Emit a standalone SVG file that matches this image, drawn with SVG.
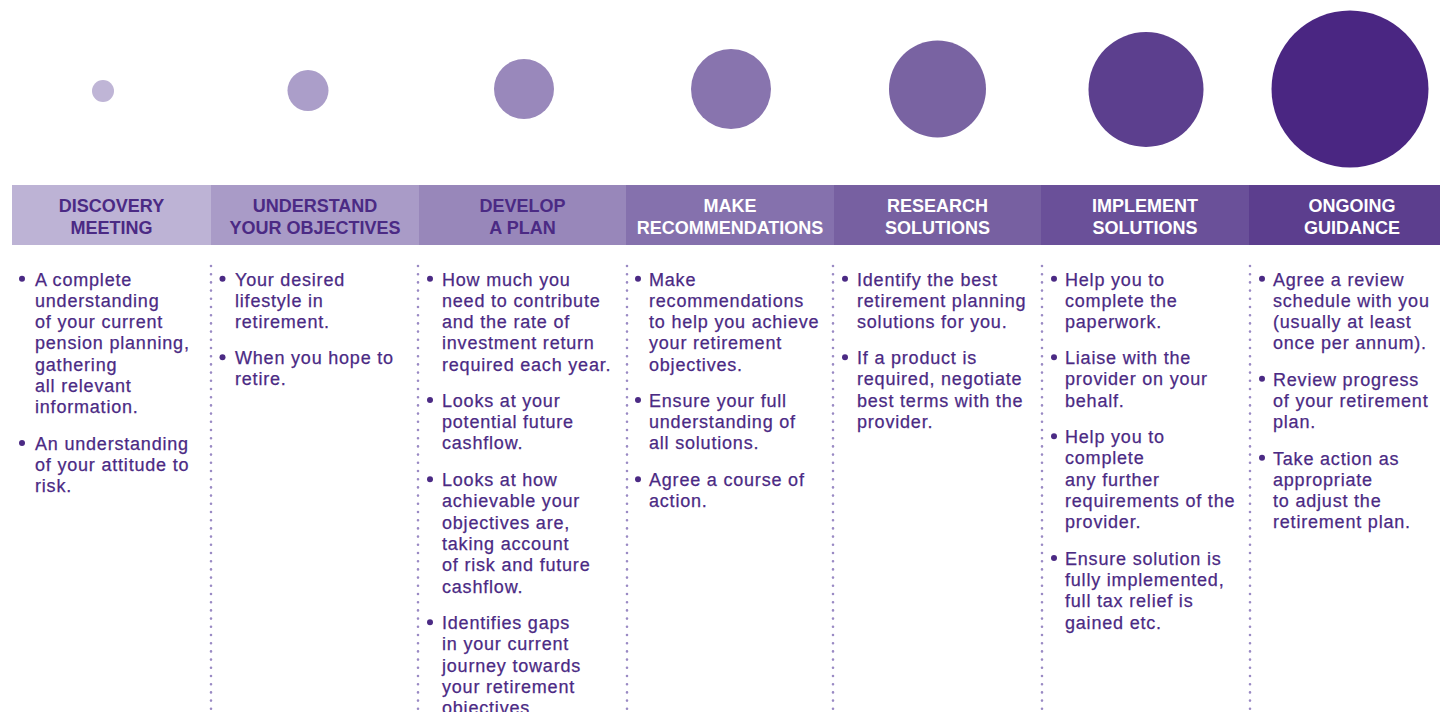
<svg xmlns="http://www.w3.org/2000/svg" width="1440" height="712" viewBox="0 0 1440 712">
<style>
.hd{font-family:"Liberation Sans",Arial,sans-serif;font-weight:bold;font-size:18px;text-anchor:middle}
.dk{fill:#4b2a84}
.wt{fill:#ffffff}
.bd{font-family:"Liberation Sans",Arial,sans-serif;font-size:18px;letter-spacing:0.8px;fill:#4b2a84;stroke:#4b2a84;stroke-width:0.25}
.bl{fill:#4b2a84}
.sep{stroke:#9a8ac4;stroke-width:2.6;stroke-linecap:round;stroke-dasharray:0 8.2;fill:none}
</style>
<rect width="1440" height="712" fill="#ffffff"/>

<g id="separators">
<line class="sep" x1="211" y1="266" x2="211" y2="712"/>
<line class="sep" x1="418" y1="266" x2="418" y2="712"/>
<line class="sep" x1="627" y1="266" x2="627" y2="712"/>
<line class="sep" x1="833" y1="266" x2="833" y2="712"/>
<line class="sep" x1="1042" y1="266" x2="1042" y2="712"/>
<line class="sep" x1="1250" y1="266" x2="1250" y2="712"/>
</g>
<g id="connectors"></g>

<g id="step1">
<circle cx="103" cy="91" r="11" fill="#bfb5d6"/>
<rect x="12" y="185" width="199" height="60" fill="#bdb3d5"/>
<text class="hd dk" x="111.5" y="212">DISCOVERY</text>
<text class="hd dk" x="111.5" y="233.5">MEETING</text>
<circle class="bl" cx="22" cy="278.8" r="3"/>
<text class="bd"><tspan x="35" y="285.5">A complete</tspan><tspan x="35" y="306.8">understanding</tspan><tspan x="35" y="328.1">of your current</tspan><tspan x="35" y="349.4">pension planning,</tspan><tspan x="35" y="370.7">gathering</tspan><tspan x="35" y="392">all relevant</tspan><tspan x="35" y="413.3">information.</tspan></text>
<circle class="bl" cx="22" cy="443" r="3"/>
<text class="bd"><tspan x="35" y="449.7">An understanding</tspan><tspan x="35" y="471">of your attitude to</tspan><tspan x="35" y="492.3">risk.</tspan></text>
</g>

<g id="step2">
<circle cx="308" cy="90.5" r="20.5" fill="#ab9ec9"/>
<rect x="211" y="185" width="208" height="60" fill="#a99bc7"/>
<text class="hd dk" x="315" y="212">UNDERSTAND</text>
<text class="hd dk" x="315" y="233.5">YOUR OBJECTIVES</text>
<circle class="bl" cx="222.5" cy="278.8" r="3"/>
<text class="bd"><tspan x="235" y="285.5">Your desired</tspan><tspan x="235" y="306.8">lifestyle in</tspan><tspan x="235" y="328.1">retirement.</tspan></text>
<circle class="bl" cx="222.5" cy="357.3" r="3"/>
<text class="bd"><tspan x="235" y="364">When you hope to</tspan><tspan x="235" y="385.3">retire.</tspan></text>
</g>

<g id="step3">
<circle cx="524" cy="89" r="30" fill="#9988bb"/>
<rect x="419" y="185" width="207" height="60" fill="#9887ba"/>
<text class="hd dk" x="522.5" y="212">DEVELOP</text>
<text class="hd dk" x="522.5" y="233.5">A PLAN</text>
<circle class="bl" cx="430" cy="278.8" r="3"/>
<text class="bd"><tspan x="442" y="285.5">How much you</tspan><tspan x="442" y="306.8">need to contribute</tspan><tspan x="442" y="328.1">and the rate of</tspan><tspan x="442" y="349.4">investment return</tspan><tspan x="442" y="370.7">required each year.</tspan></text>
<circle class="bl" cx="430" cy="400.1" r="3"/>
<text class="bd"><tspan x="442" y="406.8">Looks at your</tspan><tspan x="442" y="428.1">potential future</tspan><tspan x="442" y="449.4">cashflow.</tspan></text>
<circle class="bl" cx="430" cy="479.3" r="3"/>
<text class="bd"><tspan x="442" y="486">Looks at how</tspan><tspan x="442" y="507.3">achievable your</tspan><tspan x="442" y="528.6">objectives are,</tspan><tspan x="442" y="549.9">taking account</tspan><tspan x="442" y="571.2">of risk and future</tspan><tspan x="442" y="592.5">cashflow.</tspan></text>
<circle class="bl" cx="430" cy="622.3" r="3"/>
<text class="bd"><tspan x="442" y="629">Identifies gaps</tspan><tspan x="442" y="650.3">in your current</tspan><tspan x="442" y="671.6">journey towards</tspan><tspan x="442" y="692.9">your retirement</tspan><tspan x="442" y="714.2">objectives.</tspan></text>
</g>

<g id="step4">
<circle cx="731" cy="89" r="40" fill="#8874ae"/>
<rect x="626" y="185" width="208" height="60" fill="#8571ad"/>
<text class="hd wt" x="730" y="212">MAKE</text>
<text class="hd wt" x="730" y="233.5">RECOMMENDATIONS</text>
<circle class="bl" cx="638" cy="278.8" r="3"/>
<text class="bd"><tspan x="649" y="285.5">Make</tspan><tspan x="649" y="306.8">recommendations</tspan><tspan x="649" y="328.1">to help you achieve</tspan><tspan x="649" y="349.4">your retirement</tspan><tspan x="649" y="370.7">objectives.</tspan></text>
<circle class="bl" cx="638" cy="400.1" r="3"/>
<text class="bd"><tspan x="649" y="406.8">Ensure your full</tspan><tspan x="649" y="428.1">understanding of</tspan><tspan x="649" y="449.4">all solutions.</tspan></text>
<circle class="bl" cx="638" cy="479.3" r="3"/>
<text class="bd"><tspan x="649" y="486">Agree a course of</tspan><tspan x="649" y="507.3">action.</tspan></text>
</g>

<g id="step5">
<circle cx="937.5" cy="89" r="48.5" fill="#7963a2"/>
<rect x="834" y="185" width="207" height="60" fill="#7760a1"/>
<text class="hd wt" x="937.5" y="212">RESEARCH</text>
<text class="hd wt" x="937.5" y="233.5">SOLUTIONS</text>
<circle class="bl" cx="845" cy="278.8" r="3"/>
<text class="bd"><tspan x="857" y="285.5">Identify the best</tspan><tspan x="857" y="306.8">retirement planning</tspan><tspan x="857" y="328.1">solutions for you.</tspan></text>
<circle class="bl" cx="845" cy="357.3" r="3"/>
<text class="bd"><tspan x="857" y="364">If a product is</tspan><tspan x="857" y="385.3">required, negotiate</tspan><tspan x="857" y="406.6">best terms with the</tspan><tspan x="857" y="427.9">provider.</tspan></text>
</g>

<g id="step6">
<circle cx="1146" cy="89.5" r="57.5" fill="#5c3f8e"/>
<rect x="1041" y="185" width="208" height="60" fill="#6a5099"/>
<text class="hd wt" x="1145" y="212">IMPLEMENT</text>
<text class="hd wt" x="1145" y="233.5">SOLUTIONS</text>
<circle class="bl" cx="1054" cy="278.8" r="3"/>
<text class="bd"><tspan x="1065" y="285.5">Help you to</tspan><tspan x="1065" y="306.8">complete the</tspan><tspan x="1065" y="328.1">paperwork.</tspan></text>
<circle class="bl" cx="1054" cy="357.3" r="3"/>
<text class="bd"><tspan x="1065" y="364">Liaise with the</tspan><tspan x="1065" y="385.3">provider on your</tspan><tspan x="1065" y="406.6">behalf.</tspan></text>
<circle class="bl" cx="1054" cy="436.3" r="3"/>
<text class="bd"><tspan x="1065" y="443">Help you to</tspan><tspan x="1065" y="464.3">complete</tspan><tspan x="1065" y="485.6">any further</tspan><tspan x="1065" y="506.9">requirements of the</tspan><tspan x="1065" y="528.2">provider.</tspan></text>
<circle class="bl" cx="1054" cy="557.9" r="3"/>
<text class="bd"><tspan x="1065" y="564.6">Ensure solution is</tspan><tspan x="1065" y="585.9">fully implemented,</tspan><tspan x="1065" y="607.2">full tax relief is</tspan><tspan x="1065" y="628.5">gained etc.</tspan></text>
</g>

<g id="step7">
<circle cx="1350" cy="89" r="78.5" fill="#4a2682"/>
<rect x="1249" y="185" width="191" height="60" fill="#5c3e8e"/>
<text class="hd wt" x="1352" y="212">ONGOING</text>
<text class="hd wt" x="1352" y="233.5">GUIDANCE</text>
<circle class="bl" cx="1262" cy="278.8" r="3"/>
<text class="bd"><tspan x="1273" y="285.5">Agree a review</tspan><tspan x="1273" y="306.8">schedule with you</tspan><tspan x="1273" y="328.1">(usually at least</tspan><tspan x="1273" y="349.4">once per annum).</tspan></text>
<circle class="bl" cx="1262" cy="378.8" r="3"/>
<text class="bd"><tspan x="1273" y="385.5">Review progress</tspan><tspan x="1273" y="406.8">of your retirement</tspan><tspan x="1273" y="428.1">plan.</tspan></text>
<circle class="bl" cx="1262" cy="457.8" r="3"/>
<text class="bd"><tspan x="1273" y="464.5">Take action as</tspan><tspan x="1273" y="485.8">appropriate</tspan><tspan x="1273" y="507.1">to adjust the</tspan><tspan x="1273" y="528.4">retirement plan.</tspan></text>
</g>
</svg>
